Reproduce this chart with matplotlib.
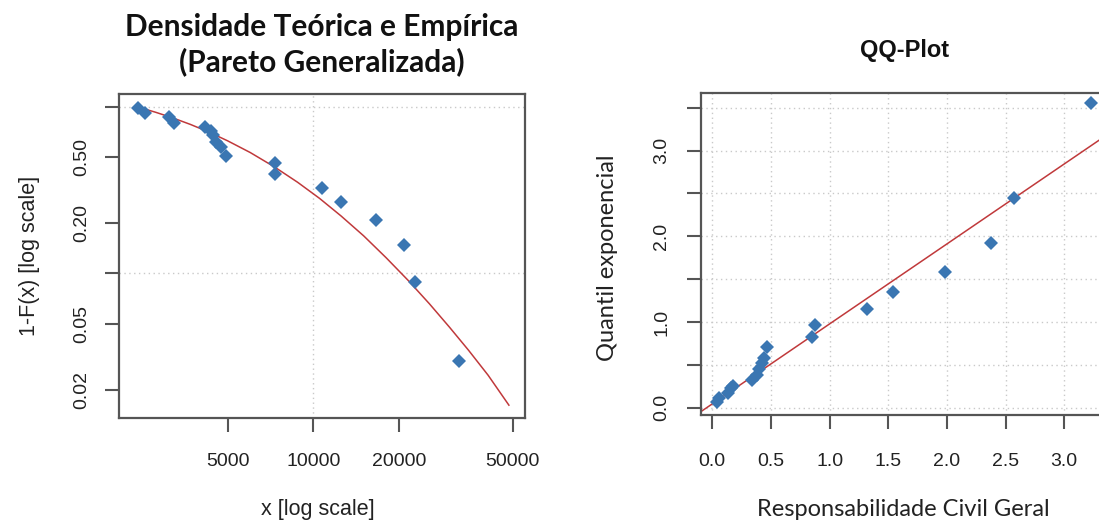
import matplotlib
matplotlib.use('Agg')
import matplotlib.pyplot as plt
import matplotlib.ticker as mticker

# ---------------- data ----------------
# Left panel: empirical survival 1-F(x) vs x (log-log)
emp_x = [2421, 2564, 3111, 3246, 4178, 4368, 4456, 4550, 4735, 4934,
         7340, 7340, 10680, 12450, 16600, 20730, 22790, 32450]
emp_surv = [0.985, 0.913, 0.871, 0.802, 0.759, 0.715, 0.672, 0.618, 0.570, 0.508,
            0.457, 0.393, 0.327, 0.269, 0.208, 0.149, 0.0888, 0.0298]
# Fitted generalized Pareto survival curve
fit_x = [2420, 2800, 3200, 3700, 4300, 5000, 6000, 7300, 8800, 10500,
         12500, 15000, 18000, 21500, 25500, 30000, 35000, 41000, 48500]
fit_surv = [0.996, 0.925, 0.858, 0.783, 0.704, 0.624, 0.531, 0.435, 0.352, 0.282,
            0.221, 0.168, 0.124, 0.0907, 0.0658, 0.0476, 0.0346, 0.0245, 0.0162]
left_xticks = [5000, 10000, 20000, 50000]
left_xticklabels = ['5000', '10000', '20000', '50000']
left_yticks = [0.02, 0.05, 0.1, 0.2, 0.5, 1.0]
left_yticklabels = ['0.02', '0.05', '', '0.20', '0.50', '']
left_grid_x = [10000]
left_grid_y = [0.1, 1.0]

# Right panel: QQ-plot
qq_data = [0.037, 0.060, 0.136, 0.157, 0.174, 0.336, 0.384, 0.398, 0.421, 0.441,
           0.469, 0.847, 0.876, 1.317, 1.541, 1.988, 2.376, 2.569, 3.226]
qq_expo = [0.070, 0.110, 0.168, 0.226, 0.253, 0.323, 0.382, 0.448, 0.518, 0.584,
           0.712, 0.829, 0.965, 1.148, 1.346, 1.587, 1.926, 2.450, 3.552]
qq_line_intercept = 0.045
qq_line_slope = 0.933
right_xticks = [0.0, 0.5, 1.0, 1.5, 2.0, 2.5, 3.0]
right_xticklabels = ['0.0', '0.5', '1.0', '1.5', '2.0', '2.5', '3.0']
right_yticks = [0.0, 0.5, 1.0, 1.5, 2.0, 2.5, 3.0, 3.5]
right_yticklabels = ['0.0', '', '1.0', '', '2.0', '', '3.0', '']

# ---------------- style ----------------
W, H = 1099, 529
PT_BLUE = '#3a76b2'
LINE_RED = '#c0393b'
SPINE = '#555555'
GRID = '#c9c9c9'
ARIAL = 'Liberation Sans'
CALIBRI = 'Lato'

fig = plt.figure(figsize=(W / 100, H / 100), dpi=100)


def px_axes(x0, y0, x1, y1):
    return fig.add_axes([x0 / W, 1 - y1 / H, (x1 - x0) / W, (y1 - y0) / H])


def style(ax, xpad, ypad):
    for s in ax.spines.values():
        s.set_color(SPINE)
        s.set_linewidth(1.6)
    ax.tick_params(axis='both', which='major', direction='out', length=10, width=1.5,
                   color=SPINE, labelsize=14, labelcolor='#222222')
    ax.tick_params(axis='x', pad=xpad)
    ax.tick_params(axis='y', pad=ypad)
    for lab in ax.get_xticklabels() + ax.get_yticklabels():
        lab.set_fontfamily(ARIAL)
    for lab in ax.get_yticklabels():
        lab.set_rotation(90)
        lab.set_va('center')


grid_kw = dict(color=GRID, linewidth=1.0, linestyle=(0, (1, 2.5)), zorder=0)
mk_kw = dict(linestyle='none', marker='D', markersize=7, color=PT_BLUE,
             markeredgewidth=0, zorder=3)

# ---------------- left panel ----------------
axL = px_axes(119.3, 94.3, 525, 418.3)
axL.set_xscale('log')
axL.set_yscale('log')
axL.set_xlim(2083, 55240)
axL.set_ylim(0.01351, 1.187)
for gx in left_grid_x:
    axL.axvline(gx, **grid_kw)
for gy in left_grid_y:
    axL.axhline(gy, **grid_kw)
axL.plot(fit_x, fit_surv, color=LINE_RED, linewidth=1.1, zorder=2)
axL.plot(emp_x, emp_surv, **mk_kw)
axL.xaxis.set_major_locator(mticker.FixedLocator(left_xticks))
axL.xaxis.set_major_formatter(mticker.FixedFormatter(left_xticklabels))
axL.xaxis.set_minor_locator(mticker.NullLocator())
axL.yaxis.set_major_locator(mticker.FixedLocator(left_yticks))
axL.yaxis.set_major_formatter(mticker.FixedFormatter(left_yticklabels))
axL.yaxis.set_minor_locator(mticker.NullLocator())
style(axL, 15, 11)

# ---------------- right panel ----------------
axR = px_axes(700.7, 92.7, 1105.7, 415)
axR.set_xlim(-0.099, 3.354)
axR.set_ylim(-0.085, 3.676)
for gx in right_xticks:
    axR.axvline(gx, **grid_kw)
for gy in right_yticks:
    axR.axhline(gy, **grid_kw)
axR.axline((0, qq_line_intercept), slope=qq_line_slope, color=LINE_RED,
           linewidth=1.1, zorder=2)
axR.plot(qq_data, qq_expo, **mk_kw)
axR.xaxis.set_major_locator(mticker.FixedLocator(right_xticks))
axR.xaxis.set_major_formatter(mticker.FixedFormatter(right_xticklabels))
axR.yaxis.set_major_locator(mticker.FixedLocator(right_yticks))
axR.yaxis.set_major_formatter(mticker.FixedFormatter(right_yticklabels))
style(axR, 17, 12)

# ---------------- texts ----------------
def ftext(x, y, s, **kw):
    fig.text(x / W, 1 - y / H, s, ha='center', va='center', **kw)


ftext(322, 27, 'Densidade Teórica e Empírica', family=CALIBRI, fontweight='bold',
      fontsize=21.5, color='#111111')
ftext(322, 62, '(Pareto Generalizada)', family=CALIBRI, fontweight='bold',
      fontsize=21.5, color='#111111')
ftext(905, 51, 'QQ-Plot', family=ARIAL, fontweight='bold', fontsize=17, color='#111111')
ftext(318, 510, 'x [log scale]', family=ARIAL, fontsize=15.5, color='#222222')
ftext(903, 510, 'Responsabilidade Civil Geral', family=CALIBRI, fontsize=17,
      color='#222222')
ftext(30, 256, '1-F(x) [log scale]', family=ARIAL, fontsize=15.5, color='#222222',
      rotation=90)
ftext(607, 258, 'Quantil exponencial', family=CALIBRI, fontsize=17, color='#222222',
      rotation=90)

fig.savefig('out.png', dpi=100)
